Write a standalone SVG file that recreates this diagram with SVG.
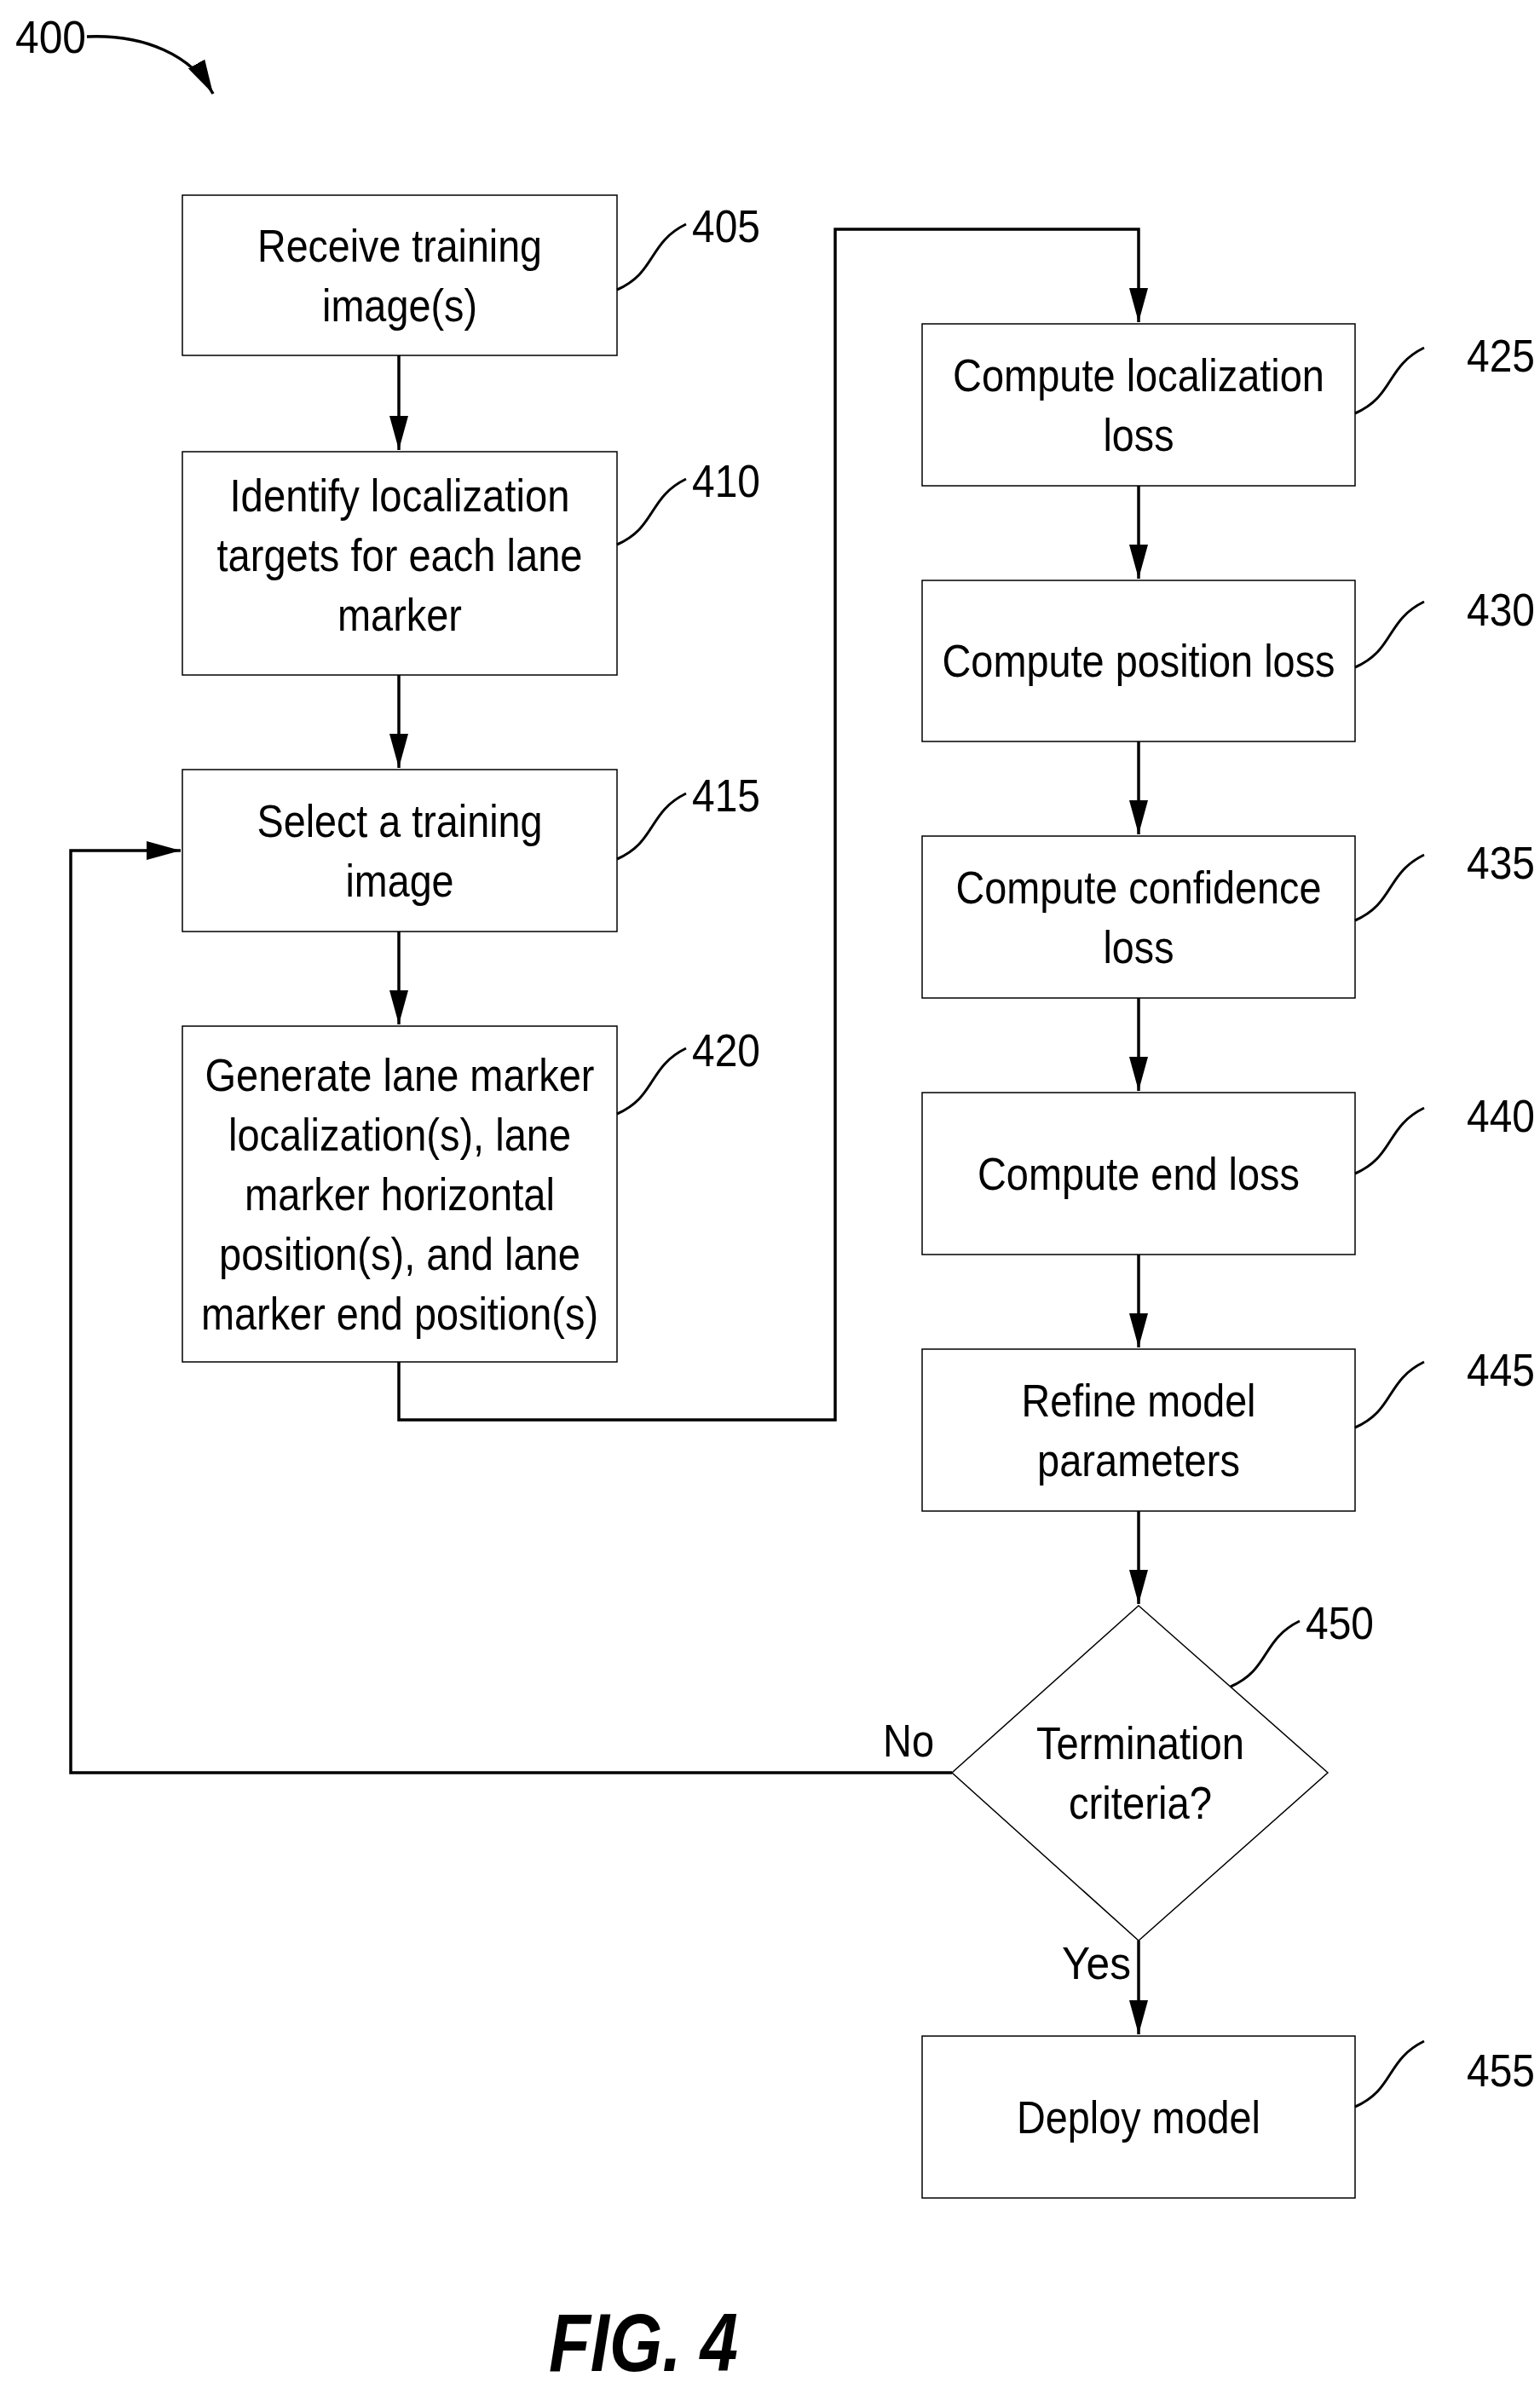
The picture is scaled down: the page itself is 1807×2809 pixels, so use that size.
<svg xmlns="http://www.w3.org/2000/svg" width="1807" height="2809" viewBox="0 0 1807 2809">
<style>
.b{fill:#fff;stroke:#000;stroke-width:1.5}
.t{font-family:"Liberation Sans",Arial,sans-serif;font-size:54px;text-anchor:middle;fill:#000}
.n{font-family:"Liberation Sans",Arial,sans-serif;font-size:54px;fill:#000}
.c{fill:none;stroke:#000;stroke-width:3.5}
.l{fill:none;stroke:#000;stroke-width:3}
</style>
<defs><marker id="a" markerWidth="12" markerHeight="16" refX="12" refY="8" orient="auto" markerUnits="userSpaceOnUse" viewBox="0 0 12 16"><path d="M0,0L12,8L0,16z" fill="#000"/></marker>
<marker id="ah" markerWidth="40" markerHeight="22" refX="40" refY="11" orient="auto" markerUnits="userSpaceOnUse" viewBox="0 0 40 22"><path d="M0,0L40,11L0,22z" fill="#000"/></marker></defs>
<g id="connectors">
<path class="c" d="M468,417V528" marker-end="url(#ah)"/>
<path class="c" d="M468,792V901" marker-end="url(#ah)"/>
<path class="c" d="M468,1093V1202" marker-end="url(#ah)"/>
<path class="c" d="M468,1598V1666H980V269H1336V378" marker-end="url(#ah)"/>
<path class="c" d="M1336,570V679" marker-end="url(#ah)"/>
<path class="c" d="M1336,870V979" marker-end="url(#ah)"/>
<path class="c" d="M1336,1171V1280" marker-end="url(#ah)"/>
<path class="c" d="M1336,1472V1581" marker-end="url(#ah)"/>
<path class="c" d="M1336,1773V1882" marker-end="url(#ah)"/>
<path class="c" d="M1336,2277V2387" marker-end="url(#ah)"/>
<path class="c" d="M1117,2080H83V998H212" marker-end="url(#ah)"/>
<text class="n" x="1036" y="2061" textLength="60" lengthAdjust="spacingAndGlyphs">No</text>
<text class="n" x="1246" y="2322" textLength="81" lengthAdjust="spacingAndGlyphs">Yes</text>
</g>
<g id="title"><text class="n" x="18" y="62" textLength="83" lengthAdjust="spacingAndGlyphs">400</text>
<path class="c" d="M102,43C170,40 225,65 250,110" marker-end="url(#ah)"/></g>
<g id="n405"><rect class="b" x="214" y="229" width="510" height="188"/>
<text class="t" x="469" y="307" textLength="334" lengthAdjust="spacingAndGlyphs">Receive training</text>
<text class="t" x="469" y="377" textLength="182" lengthAdjust="spacingAndGlyphs">image(s)</text>
<path class="l" d="M724,340C770,320 760,285 805,263"/><text class="n" x="812" y="284" textLength="80" lengthAdjust="spacingAndGlyphs">405</text></g>
<g id="n410"><rect class="b" x="214" y="530" width="510" height="262"/>
<text class="t" x="469" y="600" textLength="399" lengthAdjust="spacingAndGlyphs">Identify localization</text>
<text class="t" x="469" y="670" textLength="429" lengthAdjust="spacingAndGlyphs">targets for each lane</text>
<text class="t" x="469" y="740" textLength="146" lengthAdjust="spacingAndGlyphs">marker</text>
<path class="l" d="M724,639C770,619 760,584 805,562"/><text class="n" x="812" y="583" textLength="80" lengthAdjust="spacingAndGlyphs">410</text></g>
<g id="n415"><rect class="b" x="214" y="903" width="510" height="190"/>
<text class="t" x="469" y="982" textLength="335" lengthAdjust="spacingAndGlyphs">Select a training</text>
<text class="t" x="469" y="1052" textLength="127" lengthAdjust="spacingAndGlyphs">image</text>
<path class="l" d="M724,1008C770,988 760,953 805,931"/><text class="n" x="812" y="952" textLength="80" lengthAdjust="spacingAndGlyphs">415</text></g>
<g id="n420"><rect class="b" x="214" y="1204" width="510" height="394"/>
<text class="t" x="469" y="1280" textLength="457" lengthAdjust="spacingAndGlyphs">Generate lane marker</text>
<text class="t" x="469" y="1350" textLength="402" lengthAdjust="spacingAndGlyphs">localization(s), lane</text>
<text class="t" x="469" y="1420" textLength="364" lengthAdjust="spacingAndGlyphs">marker horizontal</text>
<text class="t" x="469" y="1490" textLength="424" lengthAdjust="spacingAndGlyphs">position(s), and lane</text>
<text class="t" x="469" y="1560" textLength="466" lengthAdjust="spacingAndGlyphs">marker end position(s)</text>
<path class="l" d="M724,1307C770,1287 760,1252 805,1230"/><text class="n" x="812" y="1251" textLength="80" lengthAdjust="spacingAndGlyphs">420</text></g>
<g id="n425"><rect class="b" x="1082" y="380" width="508" height="190"/>
<text class="t" x="1336" y="459" textLength="436" lengthAdjust="spacingAndGlyphs">Compute localization</text>
<text class="t" x="1336" y="529" textLength="83" lengthAdjust="spacingAndGlyphs">loss</text>
<path class="l" d="M1590,485C1636,465 1626,430 1671,408"/><text class="n" x="1721" y="436" textLength="80" lengthAdjust="spacingAndGlyphs">425</text></g>
<g id="n430"><rect class="b" x="1082" y="681" width="508" height="189"/>
<text class="t" x="1336" y="794" textLength="461" lengthAdjust="spacingAndGlyphs">Compute position loss</text>
<path class="l" d="M1590,783C1636,763 1626,728 1671,706"/><text class="n" x="1721" y="734" textLength="80" lengthAdjust="spacingAndGlyphs">430</text></g>
<g id="n435"><rect class="b" x="1082" y="981" width="508" height="190"/>
<text class="t" x="1336" y="1060" textLength="429" lengthAdjust="spacingAndGlyphs">Compute confidence</text>
<text class="t" x="1336" y="1130" textLength="83" lengthAdjust="spacingAndGlyphs">loss</text>
<path class="l" d="M1590,1080C1636,1060 1626,1025 1671,1003"/><text class="n" x="1721" y="1031" textLength="80" lengthAdjust="spacingAndGlyphs">435</text></g>
<g id="n440"><rect class="b" x="1082" y="1282" width="508" height="190"/>
<text class="t" x="1336" y="1396" textLength="378" lengthAdjust="spacingAndGlyphs">Compute end loss</text>
<path class="l" d="M1590,1377C1636,1357 1626,1322 1671,1300"/><text class="n" x="1721" y="1328" textLength="80" lengthAdjust="spacingAndGlyphs">440</text></g>
<g id="n445"><rect class="b" x="1082" y="1583" width="508" height="190"/>
<text class="t" x="1336" y="1662" textLength="275" lengthAdjust="spacingAndGlyphs">Refine model</text>
<text class="t" x="1336" y="1732" textLength="238" lengthAdjust="spacingAndGlyphs">parameters</text>
<path class="l" d="M1590,1675C1636,1655 1626,1620 1671,1598"/><text class="n" x="1721" y="1626" textLength="80" lengthAdjust="spacingAndGlyphs">445</text></g>
<g id="n450"><path class="b" d="M1336,1884L1558,2080L1336,2277L1117,2080Z"/>
<text class="t" x="1338" y="2064" textLength="244" lengthAdjust="spacingAndGlyphs">Termination</text>
<text class="t" x="1338" y="2134" textLength="168" lengthAdjust="spacingAndGlyphs">criteria?</text>
<path class="l" d="M1444,1979C1490,1959 1480,1924 1525,1902"/><text class="n" x="1532" y="1923" textLength="80" lengthAdjust="spacingAndGlyphs">450</text></g>
<g id="n455"><rect class="b" x="1082" y="2389" width="508" height="190"/>
<text class="t" x="1336" y="2503" textLength="286" lengthAdjust="spacingAndGlyphs">Deploy model</text>
<path class="l" d="M1590,2472C1636,2452 1626,2417 1671,2395"/><text class="n" x="1721" y="2448" textLength="80" lengthAdjust="spacingAndGlyphs">455</text></g>
<g id="fig"><text x="644" y="2782" font-family="Liberation Sans,Arial,sans-serif" font-size="96" font-weight="bold" font-style="italic" textLength="222" lengthAdjust="spacingAndGlyphs">FIG. 4</text></g>
</svg>
